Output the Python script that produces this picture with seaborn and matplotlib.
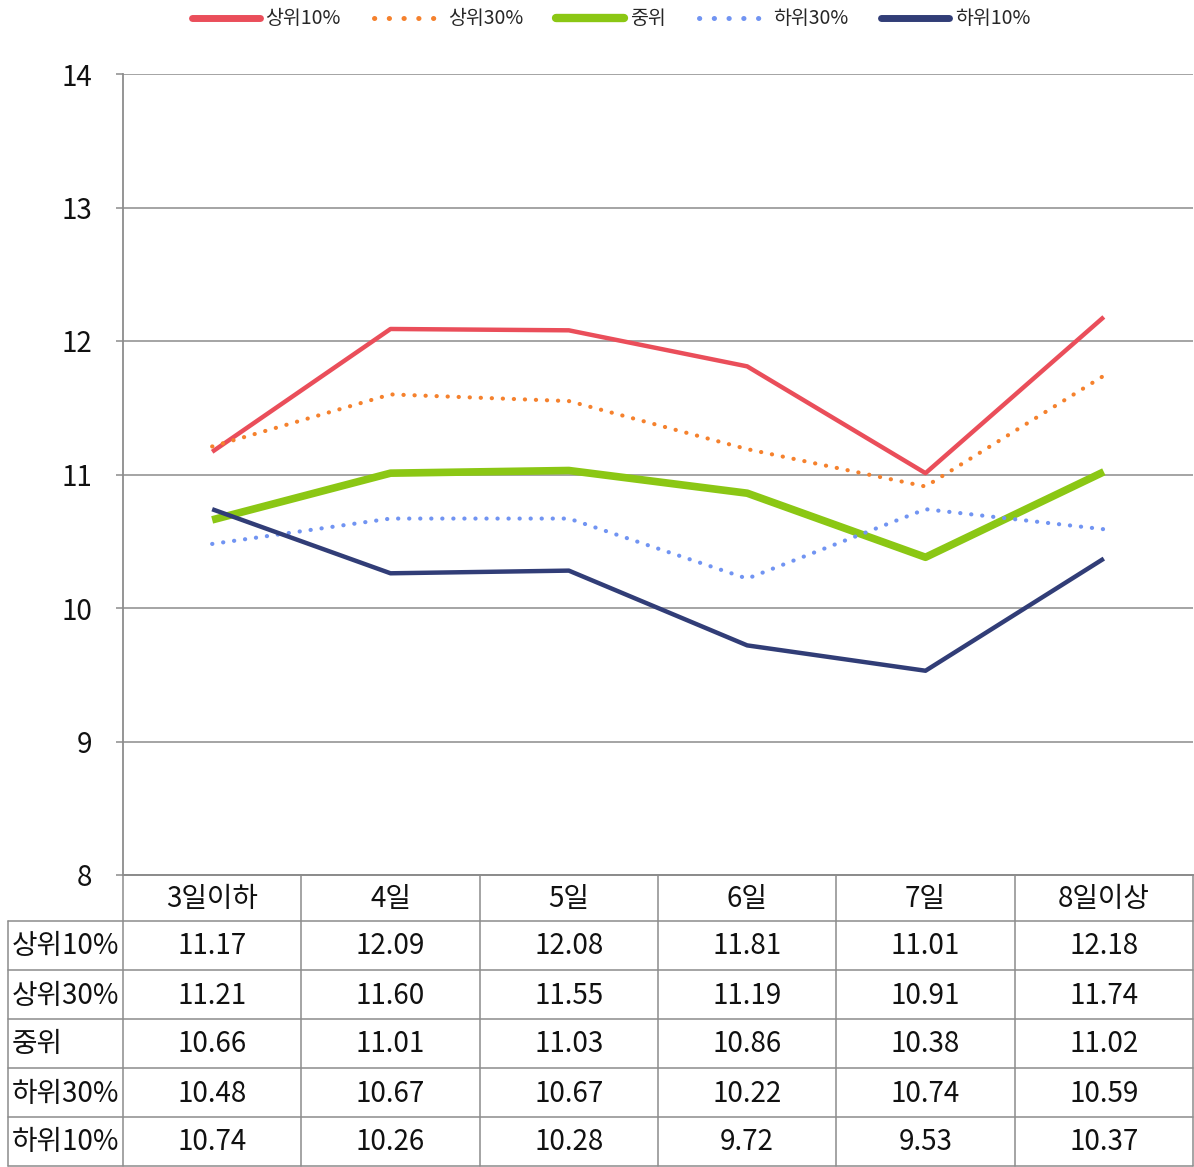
import matplotlib
matplotlib.use("Agg")
import matplotlib.pyplot as plt
from matplotlib.lines import Line2D
import seaborn as sns
import pandas as pd

categories = ["3일이하", "4일", "5일", "6일", "7일", "8일이상"]
series_names = ["상위10%", "상위30%", "중위", "하위30%", "하위10%"]
top10 = [11.17, 12.09, 12.08, 11.81, 11.01, 12.18]
top30 = [11.21, 11.60, 11.55, 11.19, 10.91, 11.74]
median = [10.66, 11.01, 11.03, 10.86, 10.38, 11.02]
bottom30 = [10.48, 10.67, 10.67, 10.22, 10.74, 10.59]
bottom10 = [10.74, 10.26, 10.28, 9.72, 9.53, 10.37]
all_series = [top10, top30, median, bottom30, bottom10]
y_ticks = [8, 9, 10, 11, 12, 13, 14]

colors = ["#EA4E5A", "#F5812D", "#8BC714", "#7194F2", "#313D77"]
widths = [3.2, 3.0, 5.5, 3.0, 3.2]
dotted = [False, True, False, True, False]

sns.set_theme(style="white")
plt.rcParams['font.family'] = ['Noto Sans CJK KR', 'DejaVu Sans']

W, H = 1194, 1167
fig = plt.figure(figsize=(W / 100, H / 100), dpi=100)

# plot area in pixel coords
L, R, T, B = 123, 1193, 74, 875
ax = fig.add_axes([L / W, 1 - B / H, (R - L) / W, (B - T) / H])

rows = []
for name, vals in zip(series_names, all_series):
    for i, v in enumerate(vals):
        rows.append({"series": name, "x": i, "value": v})
df = pd.DataFrame(rows)

for k, name in enumerate(series_names):
    sub = df[df.series == name]
    if dotted[k]:
        sns.lineplot(data=sub, x="x", y="value", ax=ax, color=colors[k],
                     linewidth=widths[k], linestyle=(0, (0.05, 2.6)),
                     dash_capstyle="round", zorder=3)
    else:
        sns.lineplot(data=sub, x="x", y="value", ax=ax, color=colors[k],
                     linewidth=widths[k], solid_capstyle="butt", zorder=3)

ax.set_xlim(-0.5, len(categories) - 0.5)
ax.set_ylim(y_ticks[0], y_ticks[-1])
ax.set_yticks(y_ticks)
ax.set_yticklabels([str(t) for t in y_ticks], fontsize=20, color="#111111")
ax.set_xticks([])
ax.set_xlabel("")
ax.set_ylabel("")
ax.grid(axis="y", color="#8C8C8C", linewidth=1.1)
ax.grid(axis="x", visible=False)
ax.set_axisbelow(True)
ax.tick_params(axis="y", length=5, width=1.1, color="#8C8C8C", pad=17, left=True)
for s in ["top", "right"]:
    ax.spines[s].set_visible(False)
ax.spines["left"].set_color("#8C8C8C")
ax.spines["left"].set_linewidth(1.3)
ax.spines["bottom"].set_color("#8C8C8C")
ax.spines["bottom"].set_linewidth(1.3)
for lbl in ax.get_yticklabels():
    lbl.set_horizontalalignment("right")

# table
tax = fig.add_axes([0, 0, 1, 1])
tax.set_xlim(0, W)
tax.set_ylim(H, 0)
tax.axis("off")
gc = "#8C8C8C"
row_y = [875, 921, 970, 1019, 1068, 1117, 1166]
col_w = (R - L) / len(categories)
col_x = [L + i * col_w for i in range(len(categories) + 1)]
LX = 8
tax.plot([L, R], [row_y[0], row_y[0]], color=gc, lw=1.3)
for yy in row_y[1:]:
    tax.plot([LX, R], [yy, yy], color=gc, lw=1.1)
tax.plot([LX, LX], [row_y[1], row_y[-1]], color=gc, lw=1.1)
for xx in col_x:
    tax.plot([xx, xx], [row_y[0], row_y[-1]], color=gc, lw=1.1)

fs = 20
for i, c in enumerate(categories):
    tax.text(col_x[i] + col_w / 2, (row_y[0] + row_y[1]) / 2 + 1, c,
             ha="center", va="center", fontsize=fs, color="#111111")
for r, (name, vals) in enumerate(zip(series_names, all_series)):
    yc = (row_y[r + 1] + row_y[r + 2]) / 2 + 1
    tax.text(LX + 4, yc, name, ha="left", va="center", fontsize=fs, color="#111111")
    for i, v in enumerate(vals):
        tax.text(col_x[i] + col_w / 2, yc, f"{v:.2f}", ha="center", va="center",
                 fontsize=fs, color="#111111")

# legend
handles = []
for k, name in enumerate(series_names):
    if dotted[k]:
        h = Line2D([], [], color=colors[k], lw=3.6, linestyle=(0, (0.05, 2.9)),
                   dash_capstyle="round")
    else:
        h = Line2D([], [], color=colors[k], lw=5 if k != 2 else 6,
                   solid_capstyle="round")
    handles.append(h)
fig.legend(handles, series_names, loc="center", bbox_to_anchor=(611 / W, 1 - 19 / H),
           ncol=5, frameon=False, fontsize=14, handlelength=3.5, handletextpad=0.3,
           columnspacing=1.7, labelspacing=0)

fig.savefig("out.png", dpi=100)
